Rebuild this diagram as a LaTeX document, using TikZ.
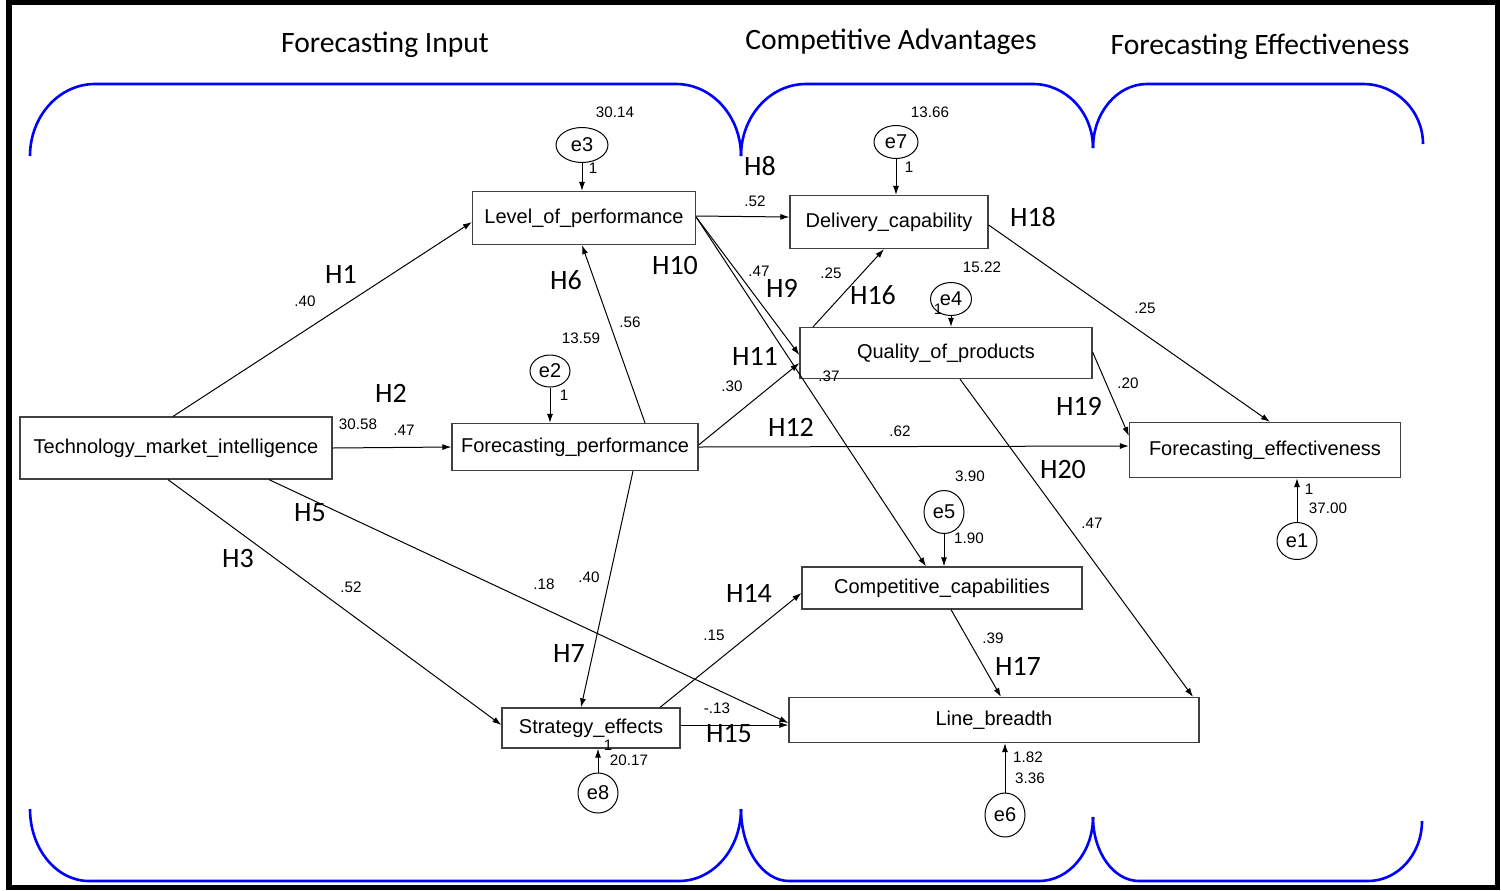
\documentclass[tikz,border=0pt]{standalone}
\usepackage{fontspec}
\setmainfont{Liberation Sans}
\newfontfamily\calibri{Carlito}
\usetikzlibrary{calc,backgrounds,arrows.meta,shapes.geometric}

\begin{document}
\begin{tikzpicture}[%
    x=0.5pt, y=-0.5pt,%
    show background rectangle,%
    tight background,%
    background rectangle/.style={fill=white}%
  ]
  %
% Styles
%
\tikzset{every node/.style={font=\fontsize{10}{12}\selectfont}};%
\tikzset{fleche/.style={-{Latex[length=4.5pt,width=3pt]}, line width=0.5pt}};%
\tikzset{boite/.style={draw=black!75, line width=0.6pt, inner sep=0pt}};%
\tikzset{erreur/.style={draw, ellipse, line width=0.5pt, inner sep=0pt}};%
\tikzset{hyp/.style={font=\calibri\fontsize{14}{16}\selectfont, inner sep=0pt}};%
\tikzset{coef/.style={font=\fontsize{7.6}{9}\selectfont, inner sep=0pt}};%
\tikzset{titre/.style={font=\calibri\fontsize{14.8}{17}\selectfont}};%
\tikzset{accolade/.style={blue, line width=1.3pt}};%

\useasboundingbox (0,0) rectangle (1501,890);%

%
% Frame and group titles
%
\draw[line width=2.75pt] (9,2.5) rectangle (1497.5,887.5);%
\node[titre] (tinput) at (385,45) {Forecasting Input};%
\node[titre] (tavantage) at (891,42) {Competitive Advantages};%
\node[titre] (teffect) at (1260,47) {Forecasting Effectiveness};%

% Braces above and below the three groups
\draw[accolade] (30,156) arc[start angle=180, end angle=90, x radius=32.5pt, y radius=36pt]
  -- (676,84) arc[start angle=90, end angle=0, x radius=32.5pt, y radius=36pt];%
\draw[accolade] (741,156) arc[start angle=180, end angle=90, x radius=32.5pt, y radius=36pt]
  -- (1033,84) arc[start angle=90, end angle=0, x radius=30pt, y radius=32pt];%
\draw[accolade] (1093,148) arc[start angle=180, end angle=90, x radius=27pt, y radius=32pt]
  -- (1363,84) arc[start angle=90, end angle=0, x radius=30pt, y radius=30pt];%
\draw[accolade] (30,809) arc[start angle=180, end angle=270, x radius=29.5pt, y radius=36pt]
  -- (679,881) arc[start angle=270, end angle=360, x radius=31pt, y radius=36pt];%
\draw[accolade] (741,809) arc[start angle=180, end angle=270, x radius=24pt, y radius=36pt]
  -- (1039,881) arc[start angle=270, end angle=360, x radius=27pt, y radius=32pt];%
\draw[accolade] (1093,817) arc[start angle=180, end angle=270, x radius=23pt, y radius=32pt]
  -- (1368,881) arc[start angle=270, end angle=360, x radius=27pt, y radius=30pt];%

%
% Observed variables
%
\node[boite, minimum width=156pt, minimum height=31pt] (tmi) at (176,448) {Technology\_market\_intelligence};%
\node[boite, minimum width=111.5pt, minimum height=26.5pt] (lop) at (584,218) {Level\_of\_performance};%
\node[boite, minimum width=123pt, minimum height=23.5pt] (fp) at (575,447) {Forecasting\_performance};%
\node[boite, minimum width=89pt, minimum height=20pt] (se) at (591,728) {Strategy\_effects};%
\node[boite, minimum width=99pt, minimum height=26.5pt] (dc) at (889,222) {Delivery\_capability};%
\node[boite, minimum width=146pt, minimum height=25.5pt] (qp) at (946,353) {Quality\_of\_products};%
\node[boite, minimum width=140pt, minimum height=21pt] (cc) at (942,588) {Competitive\_capabilities};%
\node[boite, minimum width=205pt, minimum height=22.5pt] (lb) at (994,720) {Line\_breadth};%
\node[boite, minimum width=135.5pt, minimum height=27.5pt] (fe) at (1265,450) {Forecasting\_effectiveness};%

%
% Error terms
%
\node[erreur, minimum width=26pt, minimum height=17.5pt] (e3) at (582,145) {e3};%
\node[erreur, minimum width=22pt, minimum height=16.5pt] (e7) at (896,142) {e7};%
\node[erreur, minimum width=20.5pt, minimum height=16.5pt] (e4) at (951,299) {e4};%
\node[erreur, minimum width=20pt, minimum height=16pt] (e2) at (550,371) {e2};%
\node[erreur, minimum width=20pt, minimum height=21.5pt] (e5) at (944,512) {e5};%
\node[erreur, minimum width=20pt, minimum height=20pt] (e8) at (598,793) {e8};%
\node[erreur, minimum width=20pt, minimum height=22pt] (e6) at (1005,815) {e6};%
\node[erreur, minimum width=20pt, minimum height=18.5pt] (e1) at (1297,541) {e1};%

\draw[fleche] (e3.south) -- (e3.south |- lop.north);%
\draw[fleche] (e7.south) -- (e7.south |- dc.north);%
\draw[fleche] (e4.south) -- (e4.south |- qp.north);%
\draw[fleche] (e2.south) -- (e2.south |- fp.north);%
\draw[fleche] (e5.south) -- (e5.south |- cc.north);%
\draw[fleche] (e8.north) -- (e8.north |- se.south);%
\draw[fleche] (e6.north) -- (e6.north |- lb.south);%
\draw[fleche] (e1.north) -- (e1.north |- fe.south);%

%
% Paths between variables
%
\draw[fleche] ([xshift=-1.5pt]tmi.north) -- ([yshift=-2pt]lop.west);%
\draw[fleche] (tmi.east) -- (fp.west);%
\draw[fleche] ([xshift=-4pt]tmi.south) -- ([yshift=1.5pt]se.west);%
\draw[fleche] ([xshift=46.5pt]tmi.south) -- ([yshift=-1.5pt]lb.west);%
\draw[fleche] ([xshift=35pt]fp.north) -- ([xshift=-1pt]lop.south);%
\draw[fleche] ([xshift=29pt]fp.south) -- ([xshift=-5pt]se.north);%
\draw[fleche] ([yshift=1pt]lop.east) -- ([yshift=2.5pt]dc.west);%
\draw[fleche] ([yshift=0.5pt]lop.east) -- ([yshift=-1pt]qp.west);%
\draw[fleche] ([yshift=0.5pt]lop.east) -- ([xshift=-8pt]cc.north);%
\draw[fleche] ([yshift=1pt]fp.east) -- ([yshift=-5pt]qp.west);%
\draw[fleche] (fp.east) -- ([yshift=2pt]fe.west);%
\draw[fleche] ([xshift=34.5pt]se.north) -- ([yshift=-2.5pt]cc.west);%
\draw[fleche] ([yshift=1.5pt]se.east) -- ([yshift=-2.5pt]lb.west);%
\draw[fleche] ([xshift=-66.5pt]qp.north) -- ([xshift=-2.5pt]dc.south);%
\draw[fleche] ([xshift=4.5pt]cc.south) -- ([xshift=3.5pt]lb.north);%
\draw[fleche] ([yshift=-1.5pt]dc.east) -- ([xshift=2.5pt]fe.north);%
\draw[fleche] ([yshift=0.5pt]qp.east) -- ([yshift=7pt]fe.west);%
\draw[fleche] ([xshift=7pt]qp.south) -- ([xshift=99.5pt]lb.north);%

%
% Hypotheses
%
\node[hyp] (h1) at (341,274) {H1};%
\node[hyp] (h2) at (391,393) {H2};%
\node[hyp] (h3) at (238,559) {H3};%
\node[hyp] (h5) at (310,513) {H5};%
\node[hyp] (h6) at (566,280) {H6};%
\node[hyp] (h7) at (569,654) {H7};%
\node[hyp] (h8) at (760,166) {H8};%
\node[hyp] (h9) at (782,288) {H9};%
\node[hyp] (h10) at (675,266) {H10};%
\node[hyp] (h11) at (755,356) {H11};%
\node[hyp] (h12) at (791,427) {H12};%
\node[hyp] (h14) at (749,593) {H14};%
\node[hyp] (h15) at (729,734) {H15};%
\node[hyp] (h16) at (873,295) {H16};%
\node[hyp] (h17) at (1018,666) {H17};%
\node[hyp] (h18) at (1033,217) {H18};%
\node[hyp] (h19) at (1079,406) {H19};%
\node[hyp] (h20) at (1063,470) {H20};%

%
% Estimates
%
\node[coef] (v3) at (615,112) {30.14};%
\node[coef] (v7) at (930,112) {13.66};%
\node[coef] (v4) at (982,267) {15.22};%
\node[coef] (v2) at (581,338) {13.59};%
\node[coef] (v0) at (358,424) {30.58};%
\node[coef] (v5) at (970,476) {3.90};%
\node[coef] (r5) at (969,538) {1.90};%
\node[coef] (r8) at (629,760) {20.17};%
\node[coef] (r6) at (1028,757) {1.82};%
\node[coef] (v6) at (1030,778) {3.36};%
\node[coef] (r1) at (1328,508) {37.00};%
\node[coef] (u3) at (593,168) {1};%
\node[coef] (u7) at (909,167) {1};%
\node[coef] (u4) at (938,309) {1};%
\node[coef] (u2) at (564,395) {1};%
\node[coef] (u8) at (608,745) {1};%
\node[coef] (u1) at (1309,489) {1};%
\node[coef] (b1) at (305,301) {.40};%
\node[coef] (b2) at (404,430) {.47};%
\node[coef] (b3) at (351,587) {.52};%
\node[coef] (b5) at (544,584) {.18};%
\node[coef] (b6) at (630,322) {.56};%
\node[coef] (b7) at (589,577) {.40};%
\node[coef] (b8) at (755,201) {.52};%
\node[coef] (b9) at (759,271) {.47};%
\node[coef] (b10) at (829,376) {.37};%
\node[coef] (b11) at (732,386) {.30};%
\node[coef] (b12) at (900,431) {.62};%
\node[coef] (b14) at (714,635) {.15};%
\node[coef] (b15) at (717,708) {-.13};%
\node[coef] (b16) at (831,273) {.25};%
\node[coef] (b17) at (993,638) {.39};%
\node[coef] (b18) at (1145,308) {.25};%
\node[coef] (b19) at (1128,383) {.20};%
\node[coef] (b20) at (1092,523) {.47};%
\end{tikzpicture}
\end{document}
